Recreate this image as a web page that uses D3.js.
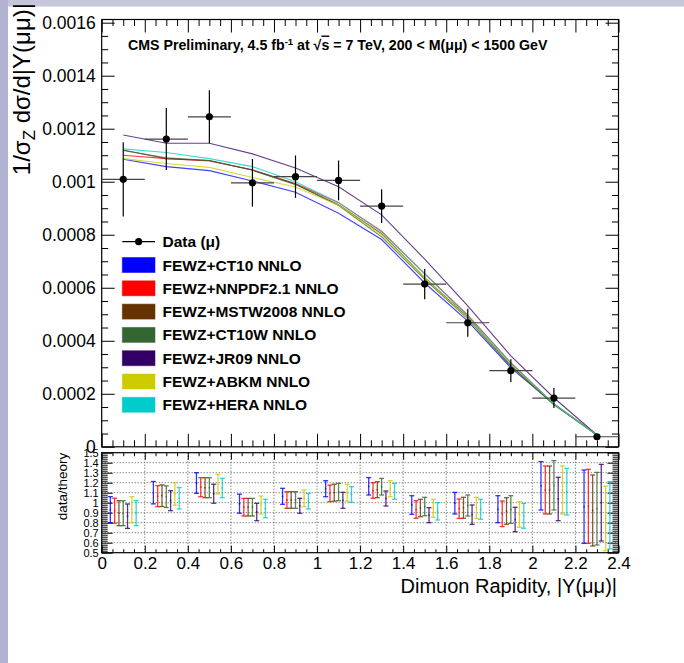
<!DOCTYPE html>
<html><head><meta charset="utf-8">
<script src="https://cdn.jsdelivr.net/npm/d3@7"></script>
<style>
body{margin:0;background:#fff}
svg{display:block}
text{font-family:"Liberation Sans",Arial,Helvetica,sans-serif}
</style>
</head><body>
<svg id="c" width="684" height="663"></svg>
<script>
// ---------- data ----------
const binCenters = [0.1,0.3,0.5,0.7,0.9,1.1,1.3,1.5,1.7,1.9,2.1,2.3];
const binHalfWidth = 0.1;
const dataValues = [0.001009,0.001161,0.001245,0.000996,0.001019,0.001005,0.000908,0.000614,0.000468,0.000287,0.000184,0.000038];
const dataErrors = [0.00014,0.000117,0.0001,0.00009,0.00008,0.000075,0.000064,0.000057,0.000053,0.000043,0.000038,0.00001];

const modelNames = ["FEWZ+CT10 NNLO","FEWZ+NNPDF2.1 NNLO","FEWZ+MSTW2008 NNLO","FEWZ+CT10W NNLO","FEWZ+JR09 NNLO","FEWZ+ABKM NNLO","FEWZ+HERA NNLO"];
const modelColors = ["#0000ff","#ff0000","#663300","#336633","#330066","#cccc00","#00cccc"];

const theoryCT10  = [0.001085,0.001057,0.001042,0.001003,0.00096,0.000881,0.000782,0.000618,0.000474,0.000298,0.000162,0.0000445];
const theoryNNPDF = [0.0011,0.001087,0.001078,0.001045,0.000993,0.000921,0.000813,0.000653,0.000497,0.000317,0.000162,0.000046];
const theoryMSTW  = [0.00112,0.001087,0.00108,0.001044,0.00099,0.000913,0.000804,0.000638,0.000489,0.000307,0.00016,0.0000445];
const theoryCT10W = [0.001118,0.00109,0.00108,0.001043,0.00099,0.00091,0.000792,0.000632,0.000483,0.000303,0.000158,0.000044];
const theoryJR09  = [0.001176,0.001145,0.001145,0.001105,0.001052,0.000981,0.000875,0.000708,0.000532,0.000343,0.000185,0.0000445];
const theoryABKM  = [0.001087,0.001069,0.001054,0.001016,0.00098,0.000911,0.0008,0.000637,0.000485,0.000313,0.000162,0.0000445];
const theoryHERA  = [0.001124,0.00111,0.001087,0.001057,0.001,0.000922,0.000811,0.000652,0.000493,0.000315,0.000162,0.000045];

const ratioCT10  = [0.93,1.10,1.197,0.99,1.064,1.14,1.164,0.977,0.995,0.935,1.169,0.96];
const ratioNNPDF = [0.92,1.065,1.155,0.955,1.027,1.093,1.122,0.932,0.94,0.889,1.127,0.964];
const ratioMSTW  = [0.895,1.07,1.15,0.955,1.027,1.1,1.13,0.947,0.949,0.917,1.127,0.922];
const ratioCT10W = [0.895,1.06,1.15,0.955,1.027,1.107,1.16,0.962,0.972,0.932,1.174,0.94];
const ratioJR09  = [0.865,1.02,1.09,0.907,0.969,1.024,1.042,0.875,0.88,0.832,1.037,1.0];
const ratioABKM  = [0.93,1.087,1.185,0.977,1.044,1.1,1.14,0.944,0.949,0.882,1.127,0.843];
const ratioHERA  = [0.895,1.045,1.147,0.942,1.015,1.082,1.114,0.914,0.934,0.869,1.11,0.874];

const ratioErrCT10  = [0.13,0.112,0.103,0.095,0.08,0.08,0.087,0.093,0.108,0.135,0.242,0.367];
const ratioErrNNPDF = [0.125,0.105,0.095,0.088,0.083,0.083,0.078,0.088,0.097,0.128,0.24,0.37];
const ratioErrMSTW  = [0.125,0.108,0.1,0.088,0.083,0.085,0.08,0.087,0.105,0.133,0.24,0.355];
const ratioErrCT10W = [0.125,0.108,0.1,0.088,0.083,0.087,0.083,0.092,0.105,0.138,0.247,0.363];
const ratioErrJR09  = [0.122,0.1,0.095,0.087,0.075,0.08,0.075,0.075,0.097,0.122,0.217,0.383];
const ratioErrABKM  = [0.13,0.113,0.098,0.09,0.083,0.085,0.08,0.09,0.105,0.128,0.24,0.323];
const ratioErrHERA  = [0.125,0.107,0.097,0.092,0.078,0.078,0.08,0.087,0.1,0.125,0.233,0.337];

const yTopTicks  = [0,0.0002,0.0004,0.0006,0.0008,0.001,0.0012,0.0014,0.0016];
const yTopLabels = ["0","0.0002","0.0004","0.0006","0.0008","0.001","0.0012","0.0014","0.0016"];
const yBotTicks  = [0.5,0.6,0.7,0.8,0.9,1.0,1.1,1.2,1.3,1.4,1.5];
const yBotLabels = ["0.5","0.6","0.7","0.8","0.9","1","1.1","1.2","1.3","1.4","1.5"];
const xTicks     = [0,0.2,0.4,0.6,0.8,1,1.2,1.4,1.6,1.8,2,2.2,2.4];
const xLabels    = ["0","0.2","0.4","0.6","0.8","1","1.2","1.4","1.6","1.8","2","2.2","2.4"];

const theorySets = [theoryCT10,theoryNNPDF,theoryMSTW,theoryCT10W,theoryJR09,theoryABKM,theoryHERA];
const ratioSets  = [ratioCT10,ratioNNPDF,ratioMSTW,ratioCT10W,ratioJR09,ratioABKM,ratioHERA];
const ratioErrSets = [ratioErrCT10,ratioErrNNPDF,ratioErrMSTW,ratioErrCT10W,ratioErrJR09,ratioErrABKM,ratioErrHERA];

// ---------- layout ----------
const X0 = 101.7, X1 = 618.5;
const T0 = 19.5, T1 = 446.8;
const B0 = 452.7, B1 = 552.7;

const svg = d3.select("#c");
svg.append("rect").attr("x",0).attr("y",0).attr("width",684).attr("height",663).attr("fill","#fff");
svg.append("rect").attr("x",0).attr("y",0).attr("width",684).attr("height",6.5).attr("fill","#c6c6da");
svg.append("rect").attr("x",0).attr("y",0).attr("width",8).attr("height",663).attr("fill","#b2b2d2");

const x = d3.scaleLinear().domain([0,2.4]).range([X0,X1]);
const yT = d3.scaleLinear().domain([0,0.001612]).range([T1,T0]);
const yB = d3.scaleLinear().domain([0.5,1.5]).range([B1,B0]);

function rangeStep(a,b,s){const r=[];const n=Math.round((b-a)/s);for(let i=0;i<=n;i++){r.push(+(a+i*s).toFixed(6));}return r;}
function minorsOf(all, majors){return all.filter(v=>!majors.some(m=>Math.abs(m-v)<1e-9));}

function styleAxis(g){
  g.select(".domain").remove();
  g.selectAll(".tick line").attr("stroke","#000").attr("stroke-width",1);
  g.selectAll(".tick text").attr("fill","#000").attr("font-family","Liberation Sans, Arial, sans-serif");
}

// ---------- top panel ----------
const topG = svg.append("g");
topG.append("g").attr("transform",`translate(${X0},0)`)
  .call(d3.axisLeft(yT).tickValues(yTopTicks).tickSize(-13).tickPadding(6).tickFormat((d,i)=>yTopLabels[i]))
  .call(styleAxis).call(g=>g.selectAll("text").attr("font-size",17.5));
const yTopMinor = minorsOf(rangeStep(0,0.0016,0.00005),yTopTicks);
topG.append("g").attr("transform",`translate(${X0},0)`)
  .call(d3.axisLeft(yT).tickValues(yTopMinor).tickSize(-6.5).tickFormat("")).call(styleAxis);
topG.append("g").attr("transform",`translate(${X1},0)`)
  .call(d3.axisRight(yT).tickValues(yTopTicks).tickSize(-13).tickFormat("")).call(styleAxis);
topG.append("g").attr("transform",`translate(${X1},0)`)
  .call(d3.axisRight(yT).tickValues(yTopMinor).tickSize(-6.5).tickFormat("")).call(styleAxis);
const xMinor = minorsOf(rangeStep(0,2.4,0.05),xTicks);
topG.append("g").attr("transform",`translate(0,${T1})`)
  .call(d3.axisBottom(x).tickValues(xTicks).tickSize(-13).tickFormat("")).call(styleAxis);
topG.append("g").attr("transform",`translate(0,${T1})`)
  .call(d3.axisBottom(x).tickValues(xMinor).tickSize(-6.5).tickFormat("")).call(styleAxis);
topG.append("g").attr("transform",`translate(0,${T0})`)
  .call(d3.axisTop(x).tickValues(xTicks).tickSize(-13).tickFormat("")).call(styleAxis);
topG.append("g").attr("transform",`translate(0,${T0})`)
  .call(d3.axisTop(x).tickValues(xMinor).tickSize(-6.5).tickFormat("")).call(styleAxis);
topG.append("rect").attr("x",X0).attr("y",T0).attr("width",X1-X0).attr("height",T1-T0)
  .attr("fill","none").attr("stroke","#000").attr("stroke-width",1.2);

const line = d3.line().x((d,i)=>x(binCenters[i])).y(d=>yT(d));
theorySets.forEach((s,k)=>{
  topG.append("path").attr("d",line(s)).attr("fill","none")
    .attr("stroke",modelColors[k]).attr("stroke-width",1.1).attr("stroke-opacity",0.75);
});

const dg = topG.append("g");
binCenters.forEach((c,i)=>{
  dg.append("line").attr("x1",x(c-binHalfWidth)).attr("x2",x(c+binHalfWidth))
    .attr("y1",yT(dataValues[i])).attr("y2",yT(dataValues[i])).attr("stroke","#444").attr("stroke-width",1.2);
  dg.append("line").attr("x1",x(c)).attr("x2",x(c))
    .attr("y1",yT(dataValues[i]-dataErrors[i])).attr("y2",yT(dataValues[i]+dataErrors[i])).attr("stroke","#000").attr("stroke-width",1.2);
  dg.append("circle").attr("cx",x(c)).attr("cy",yT(dataValues[i])).attr("r",3.6).attr("fill","#000");
});

const hdr = topG.append("text").attr("x",128).attr("y",49.5).attr("font-size",14.2).attr("font-weight","bold").attr("fill","#000");
hdr.append("tspan").text("CMS Preliminary, 4.5 fb");
hdr.append("tspan").attr("dy",-5).attr("font-size",9.5).text("-1");
hdr.append("tspan").attr("dy",5).text(" at \u221A");
hdr.append("tspan").attr("text-decoration","overline").text("s");
hdr.append("tspan").text(" = 7 TeV, 200 < M(\u03BC\u03BC) < 1500 GeV");

const lg = topG.append("g");
const lgX = 122.3, lgW = 32.7, lgY0 = 241.7, lgDy = 23.3, lgTx = 162.5;
lg.append("line").attr("x1",lgX).attr("x2",lgX+lgW).attr("y1",lgY0).attr("y2",lgY0).attr("stroke","#000").attr("stroke-width",1.2);
lg.append("circle").attr("cx",lgX+lgW/2).attr("cy",lgY0).attr("r",3.6).attr("fill","#000");
lg.append("text").attr("x",lgTx).attr("y",lgY0+5.5).attr("font-size",15.5).attr("font-weight","bold").text("Data (\u03BC)");
modelNames.forEach((n,k)=>{
  const yy = lgY0 + lgDy*(k+1);
  lg.append("rect").attr("x",lgX).attr("y",yy-7.5).attr("width",lgW).attr("height",15)
    .attr("fill",modelColors[k]).attr("stroke",modelColors[k]).attr("stroke-opacity",0.5).attr("stroke-width",1);
  lg.append("text").attr("x",lgTx).attr("y",yy+5.5).attr("font-size",15.5).attr("font-weight","bold").text(n);
});

svg.append("text").attr("transform","translate(30,3) rotate(-90)").attr("text-anchor","end")
  .attr("font-size",24).attr("fill","#000")
  .call(t=>{
    t.append("tspan").text("1/\u03C3");
    t.append("tspan").attr("dy",5).attr("font-size",17).text("Z");
    t.append("tspan").attr("dy",-5).text(" d\u03C3/d|Y(\u03BC\u03BC)|");
  });

// ---------- bottom panel ----------
const botG = svg.append("g");
const gridY = [0.6,0.7,0.8,0.9,1.0,1.1,1.2,1.3,1.4];
const gridX = [0.2,0.4,0.6,0.8,1,1.2,1.4,1.6,1.8,2,2.2];
gridY.forEach(v=>botG.append("line").attr("x1",X0).attr("x2",X1).attr("y1",yB(v)).attr("y2",yB(v))
  .attr("stroke","#555").attr("stroke-dasharray","1,2").attr("stroke-width",1));
gridX.forEach(v=>botG.append("line").attr("x1",x(v)).attr("x2",x(v)).attr("y1",B0).attr("y2",B1)
  .attr("stroke","#555").attr("stroke-dasharray","1,2").attr("stroke-width",1));

const yBotMinor = minorsOf(rangeStep(0.5,1.5,0.02),yBotTicks);
botG.append("g").attr("transform",`translate(${X0},0)`)
  .call(d3.axisLeft(yB).tickValues(yBotTicks).tickSize(-11).tickPadding(3).tickFormat((d,i)=>yBotLabels[i]))
  .call(styleAxis).call(g=>g.selectAll("text").attr("font-size",11));
botG.append("g").attr("transform",`translate(${X0},0)`)
  .call(d3.axisLeft(yB).tickValues(yBotMinor).tickSize(-6).tickFormat("")).call(styleAxis);
botG.append("g").attr("transform",`translate(${X1},0)`)
  .call(d3.axisRight(yB).tickValues(yBotTicks).tickSize(-11).tickFormat("")).call(styleAxis);
botG.append("g").attr("transform",`translate(${X1},0)`)
  .call(d3.axisRight(yB).tickValues(yBotMinor).tickSize(-6).tickFormat("")).call(styleAxis);
botG.append("g").attr("transform",`translate(0,${B1})`)
  .call(d3.axisBottom(x).tickValues(xTicks).tickSize(-7).tickPadding(4).tickFormat((d,i)=>xLabels[i]))
  .call(styleAxis).call(g=>g.selectAll("text").attr("font-size",17));
botG.append("g").attr("transform",`translate(0,${B1})`)
  .call(d3.axisBottom(x).tickValues(xMinor).tickSize(-3.5).tickFormat("")).call(styleAxis);
botG.append("g").attr("transform",`translate(0,${B0})`)
  .call(d3.axisTop(x).tickValues(xTicks).tickSize(-7).tickFormat("")).call(styleAxis);
botG.append("g").attr("transform",`translate(0,${B0})`)
  .call(d3.axisTop(x).tickValues(xMinor).tickSize(-3.5).tickFormat("")).call(styleAxis);
botG.append("rect").attr("x",X0).attr("y",B0).attr("width",X1-X0).attr("height",B1-B0)
  .attr("fill","none").attr("stroke","#000").attr("stroke-width",1.2);

ratioSets.forEach((rs,k)=>{
  const g = botG.append("g").attr("stroke",modelColors[k]).attr("stroke-opacity",0.8).attr("stroke-width",1.3);
  binCenters.forEach((c,i)=>{
    const xx = x(c + (k-3)*0.02);
    const lo = yB(rs[i]-ratioErrSets[k][i]), hi = yB(rs[i]+ratioErrSets[k][i]);
    g.append("line").attr("x1",xx).attr("x2",xx).attr("y1",lo).attr("y2",hi);
    g.append("line").attr("x1",xx-2.5).attr("x2",xx+2.5).attr("y1",lo).attr("y2",lo);
    g.append("line").attr("x1",xx-2.5).attr("x2",xx+2.5).attr("y1",hi).attr("y2",hi);
    g.append("circle").attr("cx",xx).attr("cy",yB(rs[i])).attr("r",0.9).attr("fill",modelColors[k]).attr("stroke","none").attr("fill-opacity",0.7);
  });
});

svg.append("text").attr("transform",`translate(67,${B0}) rotate(-90)`).attr("text-anchor","end")
  .attr("font-size",13.5).text("data/theory");

svg.append("text").attr("x",617).attr("y",593.3).attr("text-anchor","end").attr("font-size",20)
  .text("Dimuon Rapidity, |Y(\u03BC\u03BC)|");
</script>
</body></html>
